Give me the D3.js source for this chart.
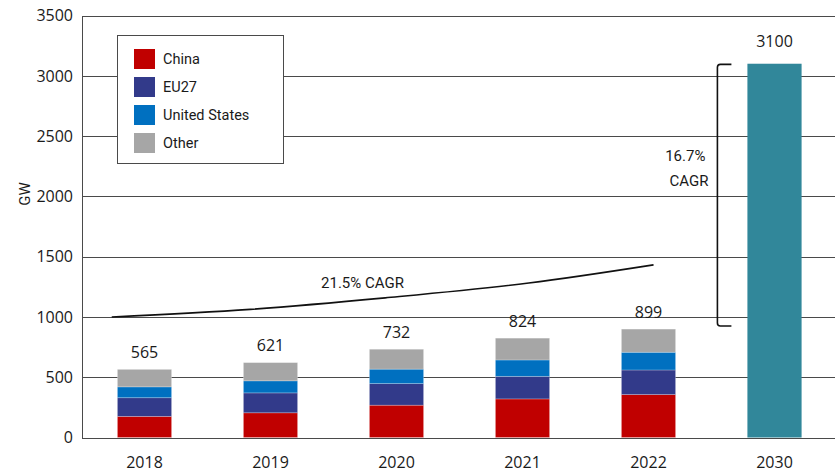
<!DOCTYPE html>
<html>
<head>
<meta charset="utf-8">
<script src="https://cdn.jsdelivr.net/npm/d3@7"></script>
<style>
  html, body { margin: 0; padding: 0; background: #fff; }
  svg { display: block; }
</style>
</head>
<body>
<svg id="chart" width="835" height="475"></svg>
<script>
// ---- data ----
const categories = ["2018", "2019", "2020", "2021", "2022", "2030"];
const historicYears = ["2018", "2019", "2020", "2021", "2022"];
const seriesNames = ["China", "EU27", "United States", "Other"];
const china = [175, 205, 268, 320, 356];
const eu27 = [155, 165, 179, 187, 204];
const unitedStates = [90, 100, 120, 136, 147];
const other = [145, 151, 165, 181, 192];
const totals = [565, 621, 732, 824, 899];
const target2030 = 3100;
const yTicks = [0, 500, 1000, 1500, 2000, 2500, 3000, 3500];
// CAGR curve: [year position, GW]
const cagrCurveYears = [2017.74, 2018.84, 2019.91, 2021.05, 2022.04];
const cagrCurveValues = [1000, 1063, 1158, 1281, 1432];
const cagrLabel = "21.5% CAGR";
const cagrLabelPos = [2019.73, 1281];
const bracketRange = [925, 3095];
const bracketLabels = ["16.7%", "CAGR"];
const bracketLabelValues = [2335, 2130];

const colors = {
  "China": "#C00000",
  "EU27": "#323A8A",
  "United States": "#0070C0",
  "Other": "#A6A6A6"
};
const color2030 = "#31879A";

const numFont = "'Open Sans', 'DejaVu Sans', sans-serif";
const condFont = "'Roboto', 'Liberation Sans', sans-serif";

const svg = d3.select("#chart");

const x = d3.scaleBand().domain(categories).range([81.5, 837.5])
  .paddingInner(0.57).paddingOuter(0.285);
const y = d3.scaleLinear().domain([0, 3500]).range([437.5, 15.5]);
const bw = x.bandwidth();

// gridlines
svg.append("g").selectAll("line").data(yTicks).join("line")
  .attr("x1", 82).attr("x2", 835)
  .attr("y1", d => Math.round(y(d)) + 0.5).attr("y2", d => Math.round(y(d)) + 0.5)
  .attr("stroke", "#4a4a4a").attr("stroke-width", 1);

// y axis line
svg.append("line").attr("x1", 82.5).attr("x2", 82.5)
  .attr("y1", Math.round(y(3500)) + 0.5).attr("y2", Math.round(y(0)) + 0.5)
  .attr("stroke", "#4a4a4a");

// y tick labels
svg.append("g").selectAll("text").data(yTicks).join("text")
  .attr("x", 73).attr("y", d => y(d)).attr("dy", "0.36em")
  .attr("text-anchor", "end")
  .style("font-family", numFont).style("font-size", "16px").attr("fill", "#1a1a1a")
  .text(d => d);

// y title
svg.append("text")
  .attr("transform", `translate(25,194) rotate(-90)`)
  .attr("text-anchor", "middle").attr("dy", "0.36em")
  .style("font-family", condFont).style("font-size", "15px").attr("fill", "#1a1a1a")
  .text("GW");

// stacked bars
const rows = historicYears.map((yr, i) => ({
  year: yr, "China": china[i], "EU27": eu27[i], "United States": unitedStates[i], "Other": other[i]
}));
const stack = d3.stack().keys(seriesNames)(rows);
svg.append("g").selectAll("g").data(stack).join("g")
  .attr("fill", d => colors[d.key])
  .selectAll("rect").data(d => d).join("rect")
  .attr("x", d => x(d.data.year))
  .attr("width", bw)
  .attr("y", d => y(d[1]))
  .attr("height", d => y(d[0]) - y(d[1]))
  .attr("stroke", "#ffffff").attr("stroke-opacity", 0.3).attr("stroke-width", 0.8);

// 2030 bar
svg.append("rect")
  .attr("x", x("2030")).attr("width", bw)
  .attr("y", y(target2030)).attr("height", y(0) - y(target2030))
  .attr("fill", color2030);

// baseline redraw over bars
svg.append("line").attr("x1", 82).attr("x2", 835)
  .attr("y1", Math.round(y(0)) + 0.5).attr("y2", Math.round(y(0)) + 0.5)
  .attr("stroke", "#4a4a4a");

// total labels
const totalLabels = historicYears.map((yr, i) => ({ cat: yr, v: totals[i], gap: 11.5 }))
  .concat([{ cat: "2030", v: target2030, gap: 17 }]);
svg.append("g").selectAll("text").data(totalLabels).join("text")
  .attr("x", d => x(d.cat) + bw / 2)
  .attr("y", d => y(d.v) - d.gap)
  .attr("text-anchor", "middle")
  .style("font-family", numFont).style("font-size", "16px").attr("fill", "#1a1a1a")
  .text(d => d.v);

// x labels
svg.append("g").selectAll("text").data(categories).join("text")
  .attr("x", d => x(d) + bw / 2).attr("y", 467.5)
  .attr("text-anchor", "middle")
  .style("font-family", numFont).style("font-size", "16px").attr("fill", "#1a1a1a")
  .text(d => d);

// CAGR curve
const xYear = d3.scaleLinear().domain([2018, 2022])
  .range([x("2018") + bw / 2, x("2022") + bw / 2]);
const curvePts = cagrCurveYears.map((yr, i) => [xYear(yr), y(cagrCurveValues[i])]);
svg.append("path")
  .attr("d", d3.line().curve(d3.curveMonotoneX)(curvePts))
  .attr("fill", "none").attr("stroke", "#111").attr("stroke-width", 1.6);
svg.append("text")
  .attr("x", xYear(cagrLabelPos[0])).attr("y", y(cagrLabelPos[1])).attr("dy", "0.36em")
  .attr("text-anchor", "middle")
  .style("font-family", condFont).style("font-size", "15px").attr("fill", "#1a1a1a")
  .text(cagrLabel);

// bracket
const bx = x("2030") - 30;
const by0 = y(bracketRange[1]), by1 = y(bracketRange[0]);
const r = 3;
svg.append("path")
  .attr("d", `M${bx + 14},${by0} L${bx + r},${by0} Q${bx},${by0} ${bx},${by0 + r} L${bx},${by1 - r} Q${bx},${by1} ${bx + r},${by1} L${bx + 14},${by1}`)
  .attr("fill", "none").attr("stroke", "#111").attr("stroke-width", 1.6);
svg.append("g").selectAll("text").data(bracketLabels).join("text")
  .attr("x", (d, i) => bx - (i === 0 ? 12 : 9)).attr("y", (d, i) => y(bracketLabelValues[i])).attr("dy", "0.36em")
  .attr("text-anchor", "end")
  .style("font-family", condFont).style("font-size", "15px").attr("fill", "#1a1a1a")
  .text(d => d);

// legend
const lg = svg.append("g");
lg.append("rect").attr("x", 117.5).attr("y", 35.5).attr("width", 166).attr("height", 128)
  .attr("fill", "#fff").attr("stroke", "#4a4a4a");
const items = lg.selectAll("g.item").data(seriesNames).join("g")
  .attr("class", "item")
  .attr("transform", (d, i) => `translate(134,${49 + i * 28})`);
items.append("rect").attr("width", 21).attr("height", 20).attr("fill", d => colors[d]);
items.append("text").attr("x", 29).attr("y", 10).attr("dy", "0.36em")
  .style("font-family", condFont).style("font-size", "14.5px").attr("fill", "#1a1a1a")
  .text(d => d);
</script>
</body>
</html>
